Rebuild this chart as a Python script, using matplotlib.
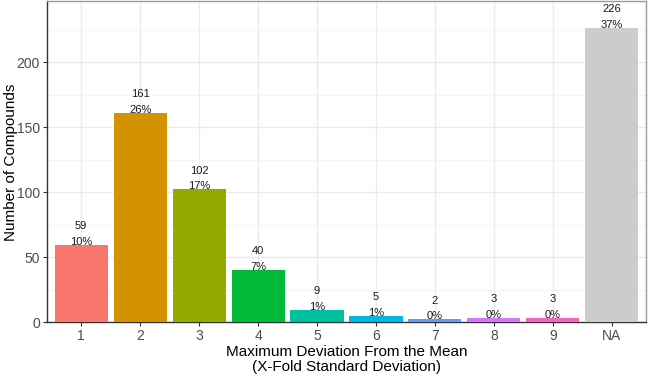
import matplotlib
matplotlib.use("Agg")
import matplotlib.pyplot as plt
import numpy as np

plt.rcParams["font.family"] = ["Liberation Sans", "DejaVu Sans"]

categories = ["1", "2", "3", "4", "5", "6", "7", "8", "9", "NA"]
counts = [59, 161, 102, 40, 9, 5, 2, 3, 3, 226]
percents = ["10%", "26%", "17%", "7%", "1%", "1%", "0%", "0%", "0%", "37%"]
colors = ["#F8766D", "#D39200", "#93AA00", "#00BA38", "#00C19F",
          "#00B9E3", "#619CFF", "#DB72FB", "#FF61C3", "#CCCCCC"]

fig = plt.figure(figsize=(6.49, 3.77), dpi=100)
ax = fig.add_axes([47 / 649, 55 / 377, 599 / 649, 321 / 377])

x = np.arange(1, len(categories) + 1)
ax.bar(x, counts, width=0.9, color=colors, zorder=3)

for xi, c, p in zip(x, counts, percents):
    ax.text(xi, c + 2.3, p, ha="center", va="center", fontsize=8, color="#1a1a1a", zorder=4)
    ax.text(xi, c + 14.5, str(c), ha="center", va="center", fontsize=8, color="#1a1a1a", zorder=4)

ax.set_xlim(0.42, 10.58)
ax.set_ylim(0, 247)
ax.set_xticks(x)
ax.set_xticklabels(categories)
ax.set_yticks([0, 50, 100, 150, 200])
ax.set_yticks([25, 75, 125, 175, 225], minor=True)

ax.grid(which="major", color="#EBEBEB", linewidth=1.0, zorder=0)
ax.grid(which="minor", axis="y", color="#F4F4F4", linewidth=0.8, zorder=0)

for s in ["top", "right"]:
    ax.spines[s].set_color("#9a9a9a")
    ax.spines[s].set_linewidth(1.0)
for s in ["left", "bottom"]:
    ax.spines[s].set_color("#333333")
    ax.spines[s].set_linewidth(1.0)

ax.tick_params(axis="both", which="major", labelsize=10, labelcolor="#4d4d4d",
               color="#333333", length=3, pad=2)
ax.tick_params(axis="y", which="minor", length=0)

fig.text(11 / 649, 1 - 162 / 377, "Number of Compounds", rotation=90,
         ha="center", va="center", fontsize=11)
fig.text(347 / 649, 1 - 352 / 377, "Maximum Deviation From the Mean",
         ha="center", va="center", fontsize=11)
fig.text(347 / 649, 1 - 367 / 377, "(X-Fold Standard Deviation)",
         ha="center", va="center", fontsize=11)

fig.savefig("out.png", dpi=100)
